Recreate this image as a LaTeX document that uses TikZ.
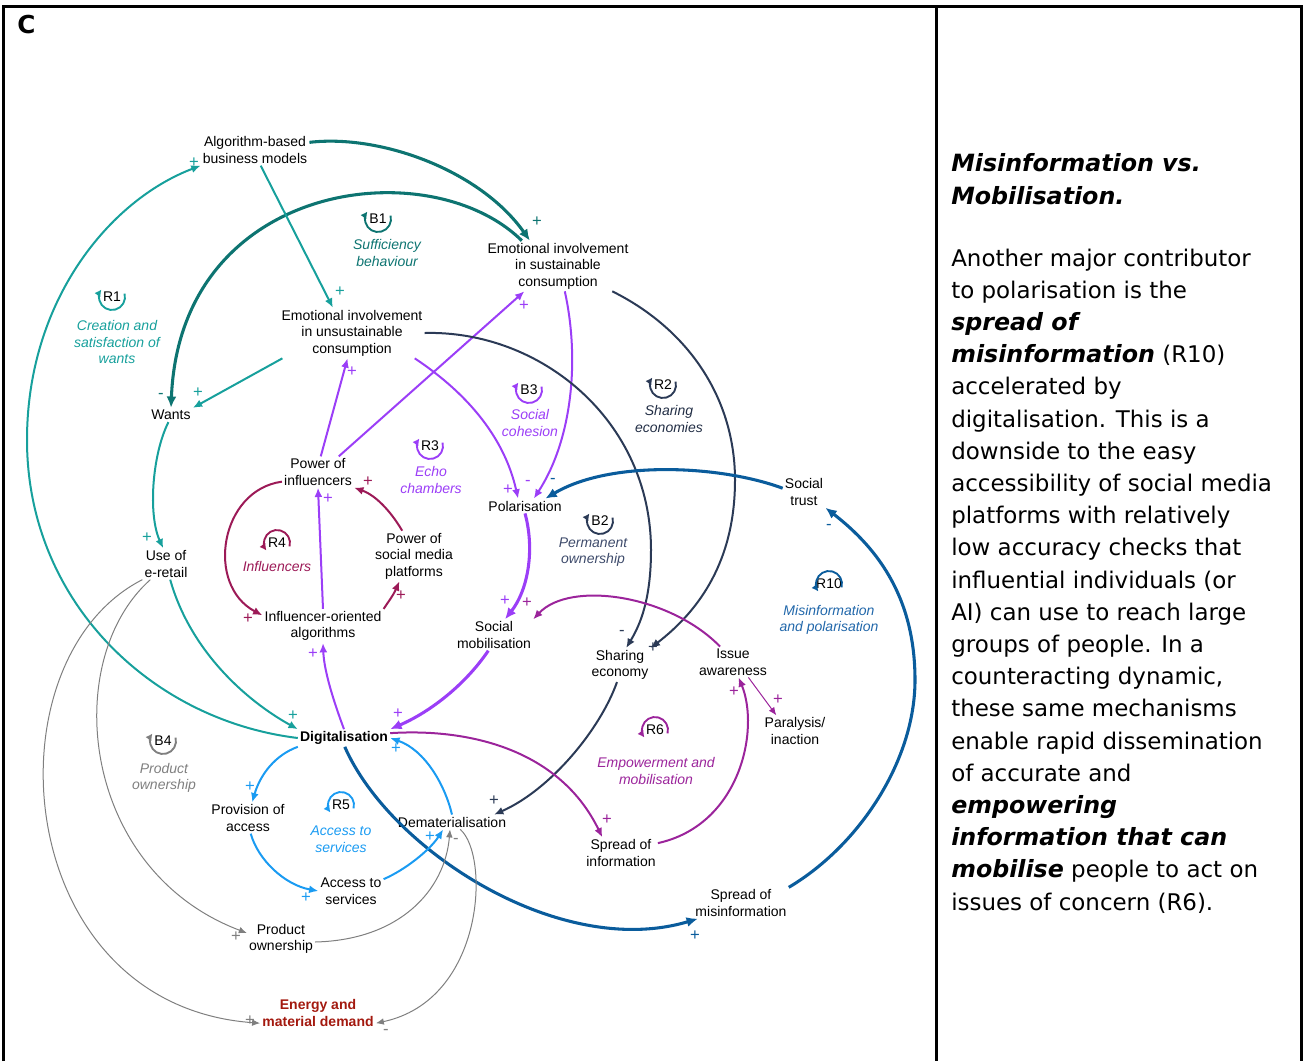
\documentclass[tikz,border=0pt]{standalone}
\usepackage{fontspec}
\setmainfont{Liberation Sans}
\newfontfamily\panelfont{DejaVu Sans}
\usetikzlibrary{arrows.meta}

\definecolor{cTeal}{HTML}{17A09C}
\definecolor{cTealDk}{HTML}{0D7471}
\definecolor{cPurple}{HTML}{9B3EF7}
\definecolor{cMaroon}{HTML}{9C1A57}
\definecolor{cNavy}{HTML}{2B3A56}
\definecolor{cSlate}{HTML}{3E4B6B}
\definecolor{cBlue}{HTML}{0A5C9C}
\definecolor{cBlueTxt}{HTML}{2167AA}
\definecolor{cMag}{HTML}{9B249B}
\definecolor{cLblue}{HTML}{1A9BF2}
\definecolor{cGray}{HTML}{7F7F7F}
\definecolor{cRed}{HTML}{A3190F}

% circular loop marker, arrow ending at the upper left
\newcommand\loopup[4]{%
  \node[loopid] (#1) at (#2) {#4};
  \draw[#3, line width=1.4pt, -{Latex[length=5pt,width=5.5pt]}]
    ([shift={(-15:13)}]#1.center) arc[start angle=-15, end angle=215, radius=13];
}
% circular loop marker, arrow ending at the lower left
\newcommand\loopdown[4]{%
  \node[loopid] (#1) at (#2) {#4};
  \draw[#3, line width=1.4pt, -{Latex[length=5pt,width=5.5pt]}]
    ([shift={(15:13)}]#1.center) arc[start angle=15, end angle=-215, radius=13];
}

\begin{document}
\begin{tikzpicture}[x=0.75pt,y=-0.75pt,
  var/.style={font=\fontsize{10.5pt}{12.4pt}\selectfont, align=center, inner sep=1.5pt},
  varbold/.style={var, font=\fontsize{10.5pt}{12.4pt}\selectfont\bfseries},
  loopid/.style={font=\fontsize{10.5pt}{12.4pt}\selectfont, inner sep=0pt},
  loopname/.style={font=\fontsize{10.5pt}{12.4pt}\selectfont\itshape, align=center, inner sep=0pt},
  sgn/.style={font=\fontsize{12.5pt}{12.5pt}\selectfont, inner sep=0pt},
  lnk/.style={line width=1.5pt, -{Latex[length=7pt,width=6pt]}},
  lnkthick/.style={line width=2.3pt, -{Latex[length=8.5pt,width=7.5pt]}},
  lnkthin/.style={line width=0.75pt, -{Latex[length=6pt,width=5pt]}},
  paneltxt/.style={anchor=base west, inner sep=0pt, font=\panelfont\fontsize{17.2pt}{24pt}\selectfont},
  bi/.style={font=\panelfont\fontsize{17.8pt}{24pt}\selectfont\bfseries\itshape}
]
\useasboundingbox (0,0) rectangle (1303,1061);

% frame and panel divider
\draw[line width=1.8pt] (3.5,1061) -- (3.5,6.5) -- (1301.5,6.5) -- (1301.5,1061);
\draw[line width=1.8pt] (936.5,6.5) -- (936.5,1061);
\node[anchor=base west, inner sep=0pt, font=\panelfont\fontsize{18.5pt}{20pt}\selectfont\bfseries] (panelC) at (17,33) {C};

% ---------- variables ----------
\node[var] (alg)    at (255,150) {Algorithm-based\\business models};
\node[var] (esus)   at (558,266) {Emotional involvement\\in sustainable\\consumption};
\node[var] (eunsus) at (352,333) {Emotional involvement\\in unsustainable\\consumption};
\node[var] (wants)  at (171,415) {Wants};
\node[var] (pinf)   at (318,472) {Power of\\influencers};
\node[var] (psm)    at (414,556) {Power of\\social media\\platforms};
\node[var] (ioa)    at (323,626) {Influencer-oriented\\algorithms};
\node[var] (eret)   at (166,564) {Use of\\e-retail};
\node[var] (pol)    at (525,506) {Polarisation};
\node[var] (strust) at (804,492) {Social\\trust};
\node[var] (smob)   at (494,635) {Social\\mobilisation};
\node[var] (sheco)  at (620,665) {Sharing\\economy};
\node[var] (issue)  at (733,662) {Issue\\awareness};
\node[var] (para)   at (795,731) {Paralysis/\\inaction};
\node[varbold] (dig) at (344,738) {Digitalisation};
\node[var] (pacc)   at (248,818) {Provision of\\access};
\node[var] (demat)  at (452,822) {Dematerialisation};
\node[var] (acc)    at (351,891) {Access to\\services};
\node[var] (sinf)   at (621,853) {Spread of\\information};
\node[var] (smis)   at (741,903) {Spread of\\misinformation};
\node[var] (pown)   at (281,939) {Product\\ownership};
\node[varbold, text=cRed] (energy) at (318,1013) {Energy and\\material demand};

% ---------- loop markers ----------
\loopup{B1}{378,219}{cTealDk}{B1}
\loopup{R1}{112,297}{cTeal}{R1}
\loopup{B3}{529,390}{cPurple}{B3}
\loopup{R2}{663,385}{cNavy}{R2}
\loopup{R3}{430,446}{cPurple}{R3}
\loopdown{R4}{277,543}{cMaroon}{R4}
\loopup{B2}{600,521}{cNavy}{B2}
\loopdown{R10}{829,584}{cBlue}{R10}
\loopdown{R6}{655,730}{cMag}{R6}
\loopup{B4}{163,741}{cGray}{B4}
\loopdown{R5}{341,805}{cLblue}{R5}

\node[loopname, text=cTealDk] (nB1) at (387,253) {Sufficiency\\behaviour};
\node[loopname, text=cTeal] (nR1) at (117,342) {Creation and\\satisfaction of\\wants};
\node[loopname, text=cPurple] (nB3) at (530,423) {Social\\cohesion};
\node[loopname, text=cNavy!80!black] (nR2) at (669,419) {Sharing\\economies};
\node[loopname, text=cPurple] (nR3) at (431,480) {Echo\\chambers};
\node[loopname, text=cMaroon] (nR4) at (277,566) {Influencers};
\node[loopname, text=cSlate] (nB2) at (593,552) {Permanent\\ownership};
\node[loopname, text=cBlueTxt] (nR10) at (829,620) {Misinformation\\and polarisation};
\node[loopname, text=cMag] (nR6) at (656,771) {Empowerment and\\mobilisation};
\node[loopname, text=cGray] (nB4) at (164,778) {Product\\ownership};
\node[loopname, text=cLblue] (nR5) at (341,839) {Access to\\services};

% ---------- links ----------
% sufficiency behaviour
\draw[lnkthick, cTealDk] (alg.8) .. controls (380,134) and (480,170) .. (esus.138);
\draw[lnkthick, cTealDk] (esus.145) .. controls (430,150) and (180,180) .. (wants.north);
% creation and satisfaction of wants
\draw[lnk, cTeal] (dig.west) .. controls (150,720) and (27,600) .. (27,440)
                  .. controls (27,300) and (110,200) .. (alg.south west);
\draw[lnk, cTeal] (alg.-70) -- (eunsus.127);
\draw[lnk, cTeal] (eunsus.-160) -- (wants.north east);
\draw[lnk, cTeal] (wants.-110) .. controls (152,455) and (148,515) .. (eret.100);
\draw[lnk, cTeal] (eret.-75) .. controls (190,650) and (245,700) .. (dig.north west);
% social cohesion and echo chambers
\draw[lnk, cPurple] (pinf.80) -- (eunsus.-100);
\draw[lnk, cPurple] (pinf.37) -- (esus.-143);
\draw[lnk, cPurple] (eunsus.-22) .. controls (470,395) and (505,440) .. (pol.133);
\draw[lnk, cPurple] (esus.-75) .. controls (580,360) and (572,440) .. (pol.40);
\draw[lnkthick, cPurple] (pol.south) .. controls (535,550) and (528,590) .. (smob.55);
\draw[lnk, cPurple] (ioa.north) -- (pinf.south);
\draw[lnk, cPurple] (dig.north) .. controls (335,705) and (324,672) .. (ioa.south);
\draw[lnkthick, cPurple] (smob.-110) .. controls (465,685) and (430,712) .. (dig.north east);
% influencers
\draw[lnk, cMaroon] (pinf.195) .. controls (220,490) and (205,585) .. (ioa.170);
\draw[lnk, cMaroon] (ioa.north east) .. controls (388,602) and (393,596) .. (psm.240);
\draw[lnk, cMaroon] (psm.115) .. controls (390,510) and (375,495) .. (pinf.south east);
% sharing economies and permanent ownership
\draw[lnk, cNavy] (eunsus.east) .. controls (540,330) and (651,420) .. (651,550)
                  .. controls (651,600) and (640,625) .. (sheco.70);
\draw[lnk, cNavy] (esus.-25) .. controls (690,330) and (735,400) .. (735,480)
                  .. controls (735,560) and (700,610) .. (sheco.north east);
\draw[lnk, cNavy] (sheco.-100) .. controls (600,730) and (550,790) .. (demat.10);
% misinformation and polarisation
\draw[lnkthick, cBlue] (strust.170) .. controls (720,465) and (610,460) .. (pol.20);
\draw[lnkthick, cBlue] (dig.-85) .. controls (390,850) and (560,960) .. (smis.200);
\draw[lnkthick, cBlue] (smis.north east) .. controls (860,845) and (915,760) .. (915,680)
                      .. controls (915,600) and (880,550) .. (strust.south east);
% empowerment and mobilisation
\draw[lnk, cMag] (issue.130) .. controls (670,595) and (570,580) .. (smob.north east);
\draw[lnk, cMag] (dig.6) .. controls (470,728) and (560,750) .. (sinf.140);
\draw[lnk, cMag] (sinf.15) .. controls (740,825) and (760,730) .. (issue.-70);
\draw[lnkthin, cMag] (issue.-45) -- (para.140);
% access to services
\draw[lnk, cLblue] (dig.south west) .. controls (275,755) and (260,775) .. (pacc.75);
\draw[lnk, cLblue] (pacc.-80) .. controls (258,860) and (285,885) .. (acc.west);
\draw[lnk, cLblue] (acc.20) .. controls (405,870) and (430,850) .. (demat.-140);
\draw[lnk, cLblue] (demat.north) .. controls (445,785) and (425,750) .. (dig.east);
% product ownership
\draw[lnkthin, cGray] (eret.225) .. controls (60,660) and (80,870) .. (pown.170);
\draw[lnkthin, cGray] (eret.south west) .. controls (-15,660) and (10,1005) .. (energy.-170);
\draw[lnkthin, cGray] (pown.-5) .. controls (400,940) and (445,890) .. (demat.-105);
\draw[lnkthin, cGray] (demat.-42) .. controls (490,855) and (485,1000) .. (energy.-10);

% ---------- polarities ----------
\node[sgn, cTealDk] (s1)  at (537,222) {+};
\node[sgn, cTealDk] (s2)  at (161,396) {-};
\node[sgn, cTeal]   (s3)  at (198,393) {+};
\node[sgn, cTeal]   (s4)  at (194,163) {+};
\node[sgn, cTeal]   (s5)  at (340,292) {+};
\node[sgn, cTeal]   (s6)  at (147,538) {+};
\node[sgn, cTeal]   (s7)  at (293,716) {+};
\node[sgn, cPurple] (s8)  at (352,372) {+};
\node[sgn, cPurple] (s9)  at (524,306) {+};
\node[sgn, cPurple] (s10) at (508,490) {+};
\node[sgn, cPurple] (s11) at (528,483) {-};
\node[sgn, cBlue]   (s12) at (553,481) {-};
\node[sgn, cPurple] (s13) at (505,601) {+};
\node[sgn, cMag]    (s14) at (527,603) {+};
\node[sgn, cPurple] (s15) at (328,499) {+};
\node[sgn, cMaroon] (s16) at (368,482) {+};
\node[sgn, cMaroon] (s17) at (248,619) {+};
\node[sgn, cPurple] (s18) at (313,654) {+};
\node[sgn, cMaroon] (s19) at (401,596) {+};
\node[sgn, cPurple] (s20) at (398,714) {+};
\node[sgn, cLblue]  (s21) at (396,749) {+};
\node[sgn, cNavy]   (s22) at (622,633) {-};
\node[sgn, cNavy]   (s23) at (653,648) {+};
\node[sgn, cNavy]   (s24) at (494,801) {+};
\node[sgn, cLblue]  (s25) at (430,837) {+};
\node[sgn, cGray]   (s26) at (456,841) {-};
\node[sgn, cMag]    (s27) at (734,692) {+};
\node[sgn, cMag]    (s28) at (778,700) {+};
\node[sgn, cMag]    (s29) at (607,820) {+};
\node[sgn, cBlue]   (s30) at (829,527) {-};
\node[sgn, cBlue]   (s31) at (695,936) {+};
\node[sgn, cLblue]  (s32) at (250,787) {+};
\node[sgn, cLblue]  (s33) at (306,898) {+};
\node[sgn, cGray]   (s34) at (236,937) {+};
\node[sgn, cGray]   (s35) at (250,1021) {+};
\node[sgn, cGray]   (s36) at (386,1032) {-};

% ---------- explanatory panel ----------
\node[paneltxt, bi] (h1) at (951,171) {Misinformation vs.};
\node[paneltxt, bi] (h2) at (951,204) {Mobilisation.};
\node[paneltxt] (t1)  at (951,266)   {Another major contributor};
\node[paneltxt] (t2)  at (951,298.2) {to polarisation is the};
\node[paneltxt, bi] (t3)  at (951,330.4) {spread of};
\node[paneltxt] (t4)  at (951,362.6) {{\fontsize{17.8pt}{24pt}\selectfont\bfseries\itshape misinformation} (R10)};
\node[paneltxt] (t5)  at (951,394.8) {accelerated by};
\node[paneltxt] (t6)  at (951,427)   {digitalisation. This is a};
\node[paneltxt] (t7)  at (951,459.2) {downside to the easy};
\node[paneltxt] (t8)  at (951,491.4) {accessibility of social media};
\node[paneltxt] (t9)  at (951,523.6) {platforms with relatively};
\node[paneltxt] (t10) at (951,555.8) {low accuracy checks that};
\node[paneltxt] (t11) at (951,588)   {influential individuals (or};
\node[paneltxt] (t12) at (951,620.2) {AI) can use to reach large};
\node[paneltxt] (t13) at (951,652.4) {groups of people. In a};
\node[paneltxt] (t14) at (951,684.6) {counteracting dynamic,};
\node[paneltxt] (t15) at (951,716.8) {these same mechanisms};
\node[paneltxt] (t16) at (951,749)   {enable rapid dissemination};
\node[paneltxt] (t17) at (951,781.2) {of accurate and};
\node[paneltxt, bi] (t18) at (951,813.4) {empowering};
\node[paneltxt, bi] (t19) at (951,845.6) {information that can};
\node[paneltxt] (t20) at (951,877.8) {{\fontsize{17.8pt}{24pt}\selectfont\bfseries\itshape mobilise} people to act on};
\node[paneltxt] (t21) at (951,910)   {issues of concern (R6).};
\end{tikzpicture}
\end{document}
